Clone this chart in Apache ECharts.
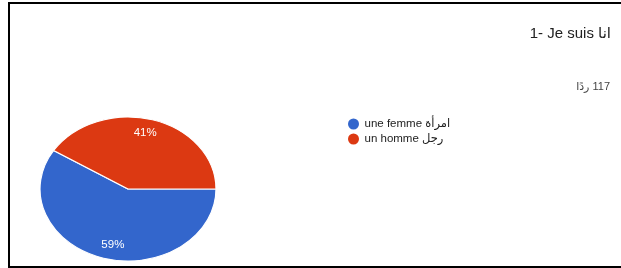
<!DOCTYPE html>
<html lang="fr">
<head>
    <meta charset="UTF-8">
    <title>Je suis</title>
    <script src="https://cdn.jsdelivr.net/npm/echarts@6/dist/echarts.min.js"></script>
    <style>
        html, body { margin: 0; padding: 0; background: #fff; }
        #wrap { position: relative; width: 621px; height: 268px; overflow: hidden; }
        #frame { position: absolute; left: 8px; top: 2px; width: 640px; height: 262px;
                 border-left: 2px solid #000; border-top: 2px solid #000; border-bottom: 2px solid #000; }
        /* google draws the pie as an ellipse, so the pie chart is stretched sideways */
        #pie { position: absolute; left: 56px; top: 117px; width: 144px; height: 144px;
               transform: scaleX(1.2222); transform-origin: 50% 50%; }
        #main { position: absolute; left: 0; top: 0; width: 621px; height: 268px; }
    </style>
</head>
<body>
<div id="wrap">
    <div id="frame"></div>
    <div id="pie"></div>
    <div id="main"></div>
</div>

<script>
    // données
    var titleText = '1- Je suis انا';
    var subtitleText = 'ردًا \u200E117';
    var categories = ['une femme امرأة', 'un homme رجل'];
    var counts = [69, 48];

    var colors = ['#3366cc', '#dc3912'];
    var font = "Arial, 'Liberation Sans', 'DejaVu Sans', sans-serif";

    var pieData = [], legendData = [];
    for (var i = 0; i < categories.length; i++) {
        pieData.push({name: categories[i], value: counts[i]});
        legendData.push({name: categories[i], itemStyle: {color: colors[i]}});
    }

    // le camembert (ellipse)
    var pieChart = echarts.init(document.getElementById('pie'), null, {renderer: 'svg'});
    pieChart.setOption({
        animation: false,
        color: colors,
        series: [{
            type: 'pie',
            radius: 72,
            center: ['50%', '50%'],
            startAngle: 0,
            clockwise: true,
            label: {show: false},
            labelLine: {show: false},
            itemStyle: {borderColor: '#fff', borderWidth: 1},
            data: pieData
        }]
    });

    // titre, légende et pourcentages (le camembert ici est transparent)
    var myChart = echarts.init(document.getElementById('main'));
    myChart.setOption({
        animation: false,
        color: colors,
        title: [{
            text: titleText,
            right: 5,
            top: 21,
            textStyle: {fontFamily: font, fontSize: 15, fontWeight: 'normal', color: '#212121'}
        }, {
            text: subtitleText,
            right: 6,
            top: 76,
            textStyle: {fontFamily: font, fontSize: 11, fontWeight: 'normal', color: '#444'}
        }],
        legend: {
            orient: 'vertical',
            left: 343,
            top: 113,
            icon: 'circle',
            itemWidth: 12,
            itemHeight: 11,
            itemGap: 3,
            textStyle: {fontFamily: font, fontSize: 11.5, color: '#222'},
            data: legendData
        },
        series: [{
            type: 'pie',
            silent: true,
            radius: [38, 72],
            center: [129, 189],
            startAngle: 0,
            clockwise: true,
            percentPrecision: 0,
            itemStyle: {color: 'rgba(0,0,0,0)'},
            label: {
                show: true,
                position: 'inside',
                formatter: '{d}%',
                color: '#fff',
                fontFamily: font,
                fontSize: 11.5
            },
            labelLine: {show: false},
            data: pieData
        }]
    });
</script>
</body>
</html>
